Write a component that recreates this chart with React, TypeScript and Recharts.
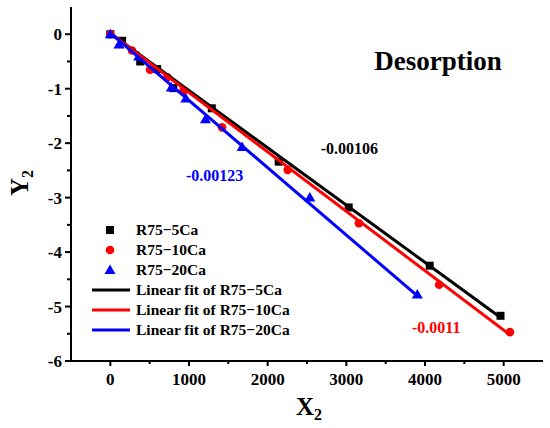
import { ScatterChart, Scatter, XAxis, YAxis, Legend } from 'recharts'

const ca5 = [
    { x: 0, y: 0 }, { x: 150, y: -0.12 }, { x: 380, y: -0.5 }, { x: 595, y: -0.64 },
    { x: 800, y: -0.99 }, { x: 1290, y: -1.36 }, { x: 2140, y: -2.34 }, { x: 3030, y: -3.18 },
    { x: 4060, y: -4.25 }, { x: 4960, y: -5.17 },
]
const ca10 = [
    { x: 0, y: 0 }, { x: 275, y: -0.3 }, { x: 505, y: -0.65 }, { x: 725, y: -0.79 },
    { x: 930, y: -1.04 }, { x: 1420, y: -1.71 }, { x: 2255, y: -2.49 }, { x: 3160, y: -3.47 },
    { x: 4180, y: -4.6 }, { x: 5080, y: -5.47 },
]
const ca20 = [
    { x: 0, y: 0 }, { x: 110, y: -0.19 }, { x: 360, y: -0.41 }, { x: 775, y: -0.98 },
    { x: 960, y: -1.18 }, { x: 1209, y: -1.56 }, { x: 1675, y: -2.07 }, { x: 2536, y: -3.0 },
    { x: 3902, y: -4.78 },
]

// fit line end points
const fit5 = [{ x: 0, y: 0.02 }, { x: 4960, y: -5.2 }]
const fit10 = [{ x: 0, y: 0.02 }, { x: 5080, y: -5.52 }]
const fit20 = [{ x: 0, y: 0.02 }, { x: 3900, y: -4.8 }]

const xTicks = [0, 500, 1000, 1500, 2000, 2500, 3000, 3500, 4000, 4500, 5000]
const yTicks = [-6, -5.5, -5, -4.5, -4, -3.5, -3, -2.5, -2, -1.5, -1, -0.5, 0]

const legendItems = [
    { label: 'R75−5Ca', color: '#000', kind: 'square' },
    { label: 'R75−10Ca', color: '#ff0000', kind: 'circle' },
    { label: 'R75−20Ca', color: '#0000ff', kind: 'triangle' },
    { label: 'Linear fit of R75−5Ca', color: '#000', kind: 'line' },
    { label: 'Linear fit of R75−10Ca', color: '#ff0000', kind: 'line' },
    { label: 'Linear fit of R75−20Ca', color: '#0000ff', kind: 'line' },
]

const FONT = '"Liberation Serif", "Times New Roman", serif'

const Square = (p: any) => <rect x={p.cx - 4} y={p.cy - 4} width={8} height={8} fill="#000" />
const Dot = (p: any) => <circle cx={p.cx} cy={p.cy} r={4.3} fill="#ff0000" />
const Tri = (p: any) => (
    <polygon points={`${p.cx},${p.cy - 5.5} ${p.cx - 5.5},${p.cy + 4} ${p.cx + 5.5},${p.cy + 4}`} fill="#0000ff" />
)
const NoShape = () => <g />

const XTick = ({ x, y, payload }: any) => {
    const major = payload.value % 1000 === 0
    return (
        <g>
            <line x1={x} x2={x} y1={y} y2={y + (major ? 5 : 3)} stroke="#000" strokeWidth={2} />
            {major && (
                <text x={x} y={y + 24} textAnchor="middle" fontFamily={FONT} fontWeight="bold" fontSize={17} fill="#000">
                    {payload.value}
                </text>
            )}
        </g>
    )
}

const YTick = ({ x, y, payload }: any) => {
    const major = Number.isInteger(payload.value)
    return (
        <g>
            <line x1={x - (major ? 6 : 4)} x2={x} y1={y} y2={y} stroke="#000" strokeWidth={2} />
            {major && (
                <text x={x - 9} y={y + 6} textAnchor="end" fontFamily={FONT} fontWeight="bold" fontSize={17} fill="#000">
                    {payload.value}
                </text>
            )}
        </g>
    )
}

const LegendBox = () => (
    <svg width={240} height={125}>
        {legendItems.map((it, i) => {
            const cy = 12 + i * 20
            let mark
            if (it.kind === 'square') mark = <rect x={18} y={cy - 4} width={8} height={8} fill={it.color} />
            else if (it.kind === 'circle') mark = <circle cx={22} cy={cy} r={4.3} fill={it.color} />
            else if (it.kind === 'triangle')
                mark = <polygon points={`22,${cy - 5.5} 16.5,${cy + 4} 27.5,${cy + 4}`} fill={it.color} />
            else mark = <line x1={4} x2={42} y1={cy} y2={cy} stroke={it.color} strokeWidth={3} />
            return (
                <g key={i}>
                    {mark}
                    <text x={48} y={cy + 5} fontFamily={FONT} fontWeight="bold" fontSize={15.5} fill="#000">
                        {it.label}
                    </text>
                </g>
            )
        })}
    </svg>
)

export default function App() {
    return (
        <div style={{ position: 'absolute', left: 0, top: 0, width: 550, height: 428, background: '#fff' }}>
            <ScatterChart width={550} height={428} margin={{ top: 7, right: 7, bottom: 7, left: 11 }}>
                <XAxis
                    type="number" dataKey="x" domain={[-500, 5500]} ticks={xTicks} interval={0}
                    allowDataOverflow height={60} tickSize={0} tickMargin={0} tick={<XTick />}
                    axisLine={{ stroke: '#000', strokeWidth: 2 }} tickLine={false}
                />
                <XAxis
                    xAxisId="top" orientation="top" type="number" domain={[-500, 5500]} height={0}
                    tick={false} tickLine={false} axisLine={{ stroke: '#000', strokeWidth: 2 }}
                />
                <YAxis
                    type="number" dataKey="y" domain={[-6, 0.5]} ticks={yTicks} interval={0}
                    allowDataOverflow width={60} tickSize={0} tickMargin={0} tick={<YTick />}
                    axisLine={{ stroke: '#000', strokeWidth: 2 }} tickLine={false}
                />
                <YAxis
                    yAxisId="right" orientation="right" type="number" domain={[-6, 0.5]} width={0}
                    tick={false} tickLine={false} axisLine={{ stroke: '#000', strokeWidth: 2 }}
                />
                <Legend
                    layout="horizontal" verticalAlign="middle" align="center" width={240} height={125}
                    wrapperStyle={{ left: 88, top: 218 }} content={() => <LegendBox />}
                />
                <Scatter data={ca5} shape={Square} isAnimationActive={false} />
                <Scatter data={ca10} shape={Dot} isAnimationActive={false} />
                <Scatter data={ca20} shape={Tri} isAnimationActive={false} />
                <Scatter data={fit5} shape={NoShape} line={{ stroke: '#000', strokeWidth: 3 }} isAnimationActive={false} />
                <Scatter data={fit10} shape={NoShape} line={{ stroke: '#ff0000', strokeWidth: 3 }} isAnimationActive={false} />
                <Scatter data={fit20} shape={NoShape} line={{ stroke: '#0000ff', strokeWidth: 3 }} isAnimationActive={false} />
            </ScatterChart>
            <svg width={550} height={428} style={{ position: 'absolute', left: 0, top: 0, pointerEvents: 'none' }}>
                <g fontFamily={FONT} fontWeight="bold">
                    <text x={438} y={70} textAnchor="middle" fontSize={27} fill="#000">Desorption</text>
                    <text x={378} y={154} textAnchor="end" fontSize={16} fill="#000">-0.00106</text>
                    <text x={186} y={181} fontSize={16} fill="#0000ff">-0.00123</text>
                    <text x={412} y={333} fontSize={16} fill="#ff0000">-0.0011</text>
                    <text x={309} y={415} textAnchor="middle" fontSize={25} fill="#000">
                        X<tspan fontSize={16} dy={5}>2</tspan>
                    </text>
                    <text transform="translate(28,183) rotate(-90)" textAnchor="middle" fontSize={25} fill="#000">
                        Y<tspan fontSize={16} dy={5}>2</tspan>
                    </text>
                </g>
            </svg>
        </div>
    )
}
